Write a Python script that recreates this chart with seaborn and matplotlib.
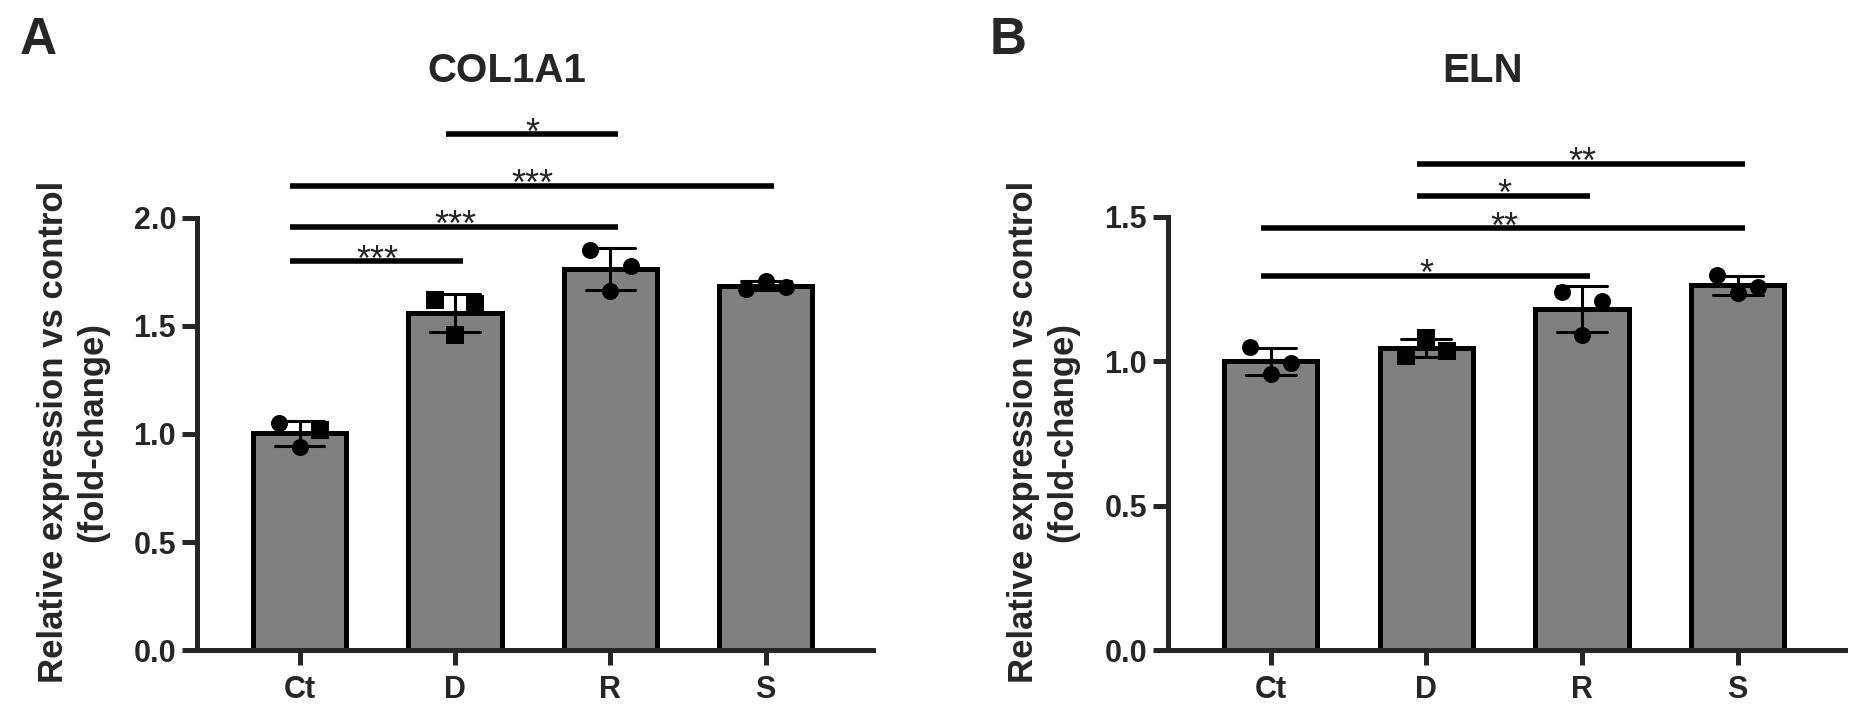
import numpy as np
import pandas as pd
import seaborn as sns
import matplotlib.pyplot as plt

# groups on the x axis
groups = ['Ct', 'D', 'R', 'S']

# replicate values (fold-change)
col1a1_ct = [1.05, 0.94, 1.02]
col1a1_d = [1.62, 1.46, 1.60]
col1a1_r = [1.85, 1.66, 1.78]
col1a1_s = [1.67, 1.71, 1.68]

eln_ct = [1.05, 0.955, 0.995]
eln_d = [1.02, 1.08, 1.035]
eln_r = [1.24, 1.09, 1.21]
eln_s = [1.30, 1.235, 1.256]

# symbol of each replicate
col1a1_markers = [['o', 'o', 's'], ['s', 's', 's'], ['o', 'o', 'o'], ['o', 'o', 'o']]
eln_markers = [['o', 'o', 'o'], ['s', 's', 's'], ['o', 'o', 'o'], ['o', 'o', 'o']]

# significance brackets: (from group, to group, height, label)
col1a1_sig = [(1, 2, 2.39, '*'), (0, 3, 2.15, '***'), (0, 2, 1.96, '***'), (0, 1, 1.80, '***')]
eln_sig = [(1, 3, 1.685, '**'), (1, 2, 1.574, '*'), (0, 3, 1.46, '**'), (0, 2, 1.297, '*')]

col1a1_ticks = [0.0, 0.5, 1.0, 1.5, 2.0]
eln_ticks = [0.0, 0.5, 1.0, 1.5]

sns.set_style('ticks')
plt.rcParams['font.family'] = ['Liberation Sans', 'DejaVu Sans']
plt.rcParams['font.weight'] = 'bold'

W, H = 1857, 716
fig = plt.figure(figsize=(W / 100, H / 100), dpi=100)

offsets = [-0.13, 0.0, 0.13]


def panel(ax, reps, markers, sig, ticks, ytop):
    df = pd.DataFrame({'group': np.repeat(groups, 3), 'value': np.concatenate(reps)})
    sns.barplot(data=df, x='group', y='value', order=groups, estimator='mean',
                errorbar='sd', width=0.6, color='#808080', saturation=1,
                edgecolor='black', linewidth=3.6, capsize=0.32,
                err_kws={'color': 'black', 'linewidth': 2.2}, ax=ax)
    for i, (vals, mk) in enumerate(zip(reps, markers)):
        for off, v, m in zip(offsets, vals, mk):
            size = 165 if m == 's' else 150
            ax.scatter(i + off, v, marker=m, s=size, color='black', linewidths=0, zorder=4)
    for a, b, y, lab in sig:
        ax.plot([a - 0.06, b + 0.05], [y, y], color='black', lw=4,
                solid_capstyle='butt', clip_on=False)
        ax.annotate(lab, xy=((a + b) / 2, y), xytext=(0, -7), textcoords='offset points',
                    ha='center', va='baseline', fontsize=26, fontweight='normal')
    ax.set_xlim(-0.66, 3.69)
    ax.set_ylim(0, ytop)
    ax.set_yticks(ticks)
    ax.set_yticklabels([f'{t:.1f}' for t in ticks])
    ax.spines['left'].set_bounds(0, ticks[-1])
    for s in ['top', 'right']:
        ax.spines[s].set_visible(False)
    for s in ['left', 'bottom']:
        ax.spines[s].set_linewidth(3.6)
    ax.tick_params(width=3.6, length=11, labelsize=22, pad=4)
    ax.tick_params(axis='x', pad=7)
    ax.set_xlabel('')
    ax.set_ylabel('')


ax1 = fig.add_axes([197 / W, 66 / H, (873 - 197) / W, (650 - 91) / H])
panel(ax1, [col1a1_ct, col1a1_d, col1a1_r, col1a1_s], col1a1_markers, col1a1_sig,
      col1a1_ticks, (650 - 91) / 216)

ax2 = fig.add_axes([1168 / W, 66 / H, (1845 - 1168) / W, (650 - 91) / H])
panel(ax2, [eln_ct, eln_d, eln_r, eln_s], eln_markers, eln_sig,
      eln_ticks, (650 - 91) / 288.7)

ylab = 'Relative expression vs control\n(fold-change)'
for x, letter, tx, title in [(38, 'A', 507, 'COL1A1'), (1008, 'B', 1483, 'ELN')]:
    fig.text(x / W, 1 - 40 / H, letter, fontsize=37, ha='center', va='center')
    fig.text(tx / W, 1 - 71 / H, title, fontsize=29, ha='center', va='center')
fig.text(73 / W, 1 - 432 / H, ylab, rotation=90, ha='center', va='center',
         multialignment='center', fontsize=25, linespacing=1.25)
fig.text(1043 / W, 1 - 432 / H, ylab, rotation=90, ha='center', va='center',
         multialignment='center', fontsize=25, linespacing=1.25)

fig.savefig('out.png', dpi=100)
